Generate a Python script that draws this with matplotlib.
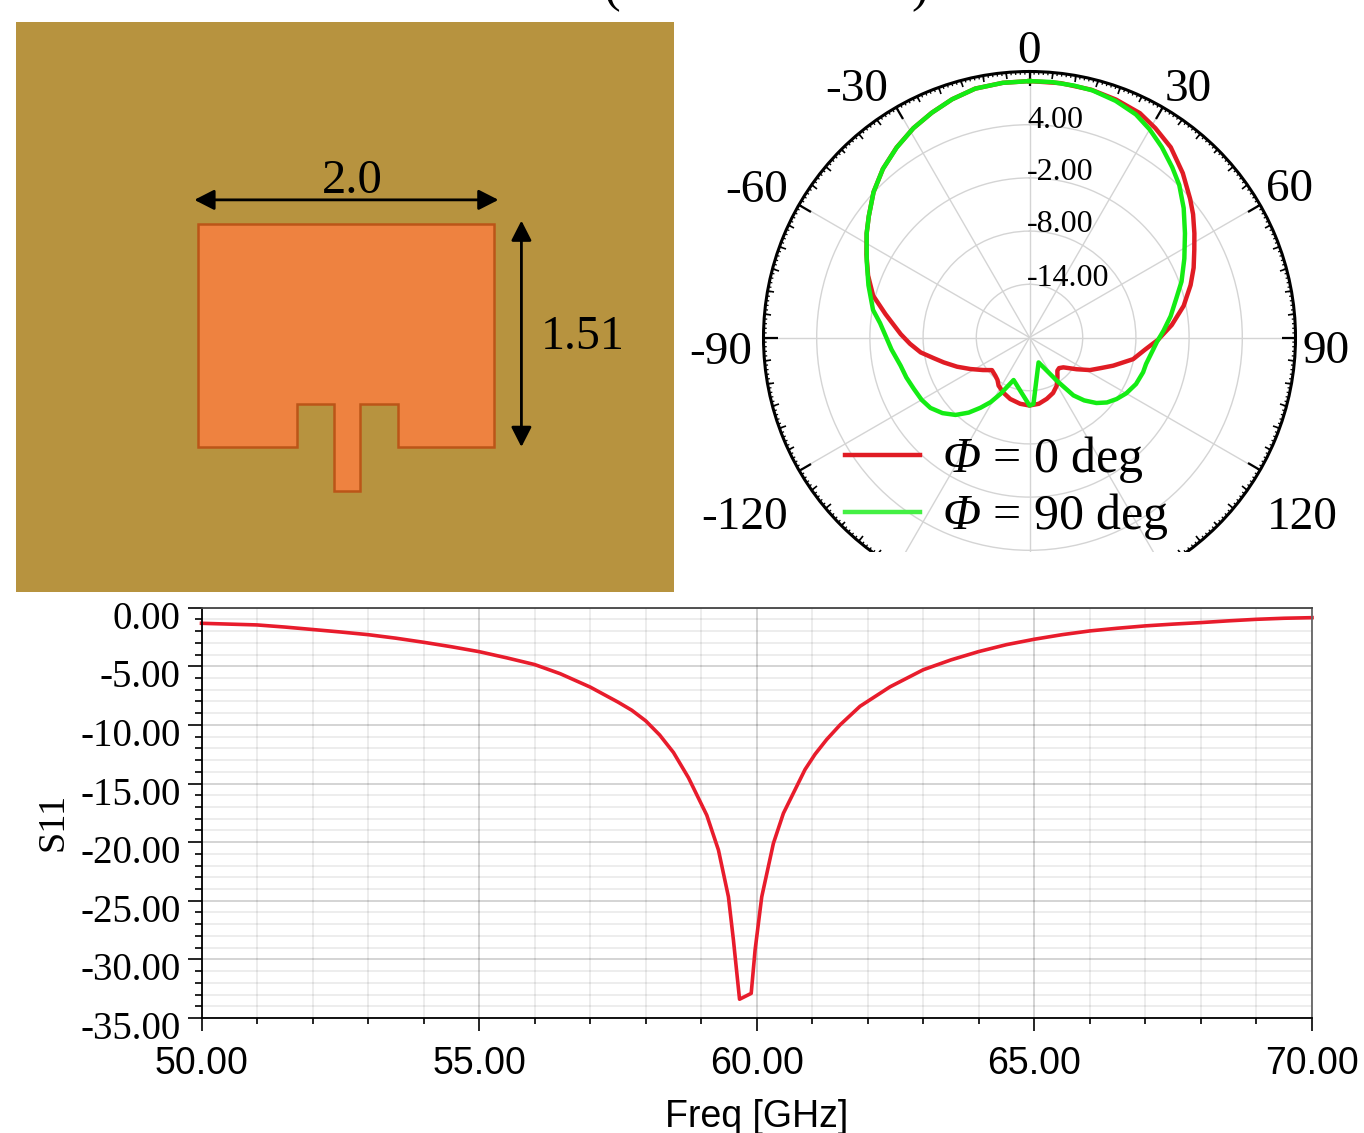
import numpy as np
import matplotlib
matplotlib.use("Agg")
import matplotlib.pyplot as plt
from matplotlib.patches import Polygon, Rectangle
from matplotlib.transforms import ScaledTranslation

plt.rcParams['font.family'] = ['Liberation Serif', 'DejaVu Sans']
# Capital greek in mathtext comes from the rm slot, the legend wants it slanted
plt.rcParams['mathtext.fontset'] = 'custom'
plt.rcParams['mathtext.it'] = 'Liberation Serif:italic'
plt.rcParams['mathtext.rm'] = 'Liberation Serif:italic'

W, H = 1364, 1133

# Patch outline in mm, origin at lower left corner of the patch
patch_x = [0, 2.0, 2.0, 1.35, 1.35, 1.095, 1.095, 0.92, 0.92, 0.67, 0.67, 0]
patch_y = [1.51, 1.51, 0, 0, 0.29, 0.29, -0.30, -0.30, 0.29, 0.29, 0, 0]

# Radiation pattern, angle in deg, gain in dB
theta_red = [0, 7, 14, 20, 26.2, 31, 36.6, 43, 49.2, 53, 57.7, 62, 67, 72, 78.4,
             85, 91, 96, 101.8, 105, 108.6, 113, 118.3, 124, 131.4, 136, 140,
             145, 150.5, 157, 164.3, 172, 180, 188, 197.4, 205, 212.7, 217,
             221.8, 229, 235, 241.9, 248, 253.8, 258, 262.2, 267, 271.5, 279.2,
             285, 291, 297, 302.6, 307, 313, 319, 325, 331, 336.5, 342, 347.7,
             354, 360]
gain_red = [8.92, 8.9, 8.8, 8.55, 8.20, 7.55, 6.72, 5.35, 3.93, 3.1, 2.0, 1.05,
            0.11, -0.9, -2.25, -3.9, -5.5, -6.9, -8.06, -9.1, -10.04, -11.2,
            -12.25, -13.6, -14.91, -15.2, -15.11, -14.5, -13.76, -13.2, -12.81,
            -12.45, -12.33, -12.45, -12.73, -13.1, -13.55, -14.0, -14.22, -14.39,
            -13.6, -12.45, -11.2, -9.93, -8.9, -7.61, -6.5, -5.47, -3.55, -1.74,
            -0.5, 0.64, 1.80, 2.7, 4.05, 5.2, 6.15, 7.0, 7.64, 8.25, 8.73, 8.88,
            8.92]
theta_green = [0, 5, 10, 14.3, 20, 25.5, 30, 34.8, 40, 44.5, 50, 56.2, 63, 69.8,
               75, 81.4, 87, 92, 102.8, 107, 113.6, 120, 125.3, 130, 134.4, 139,
               142.8, 147.8, 160, 176.6, 180, 200.5, 207.3, 211, 214.9, 219,
               223.7, 229, 234.6, 240, 246, 252, 257.7, 265, 275.5, 280, 288,
               295.2, 302.6, 307, 313, 319, 325.1, 331, 336.5, 342, 347.7, 354,
               360]
gain_green = [8.92, 8.92, 8.85, 8.76, 8.40, 7.87, 7.1, 6.15, 5.05, 4.10, 2.7,
              1.10, -0.4, -1.73, -2.85, -3.90, -4.85, -5.62, -6.52, -6.6, -6.89,
              -7.4, -7.98, -8.6, -9.44, -10.6, -11.80, -14.27, -17.01, -12.49,
              -12.33, -14.88, -12.83, -11.5, -10.34, -9.1, -7.92, -7.0, -6.29,
              -5.95, -5.73, -5.4, -5.12, -4.38, -3.07, -2.08, -0.9, 0.29, 1.80,
              2.7, 4.05, 5.2, 6.15, 7.0, 7.64, 8.25, 8.73, 8.88, 8.92]
ring_values = [-14, -8, -2, 4]
ring_labels = ["-14.00", "-8.00", "-2.00", "4.00"]
angle_labels = ["0", "30", "60", "90", "120", "-30", "-60", "-90", "-120"]

# S11 against frequency
freq = [50, 50.5, 51, 51.5, 52, 52.5, 53, 53.5, 54, 54.5, 55, 55.5, 56, 56.46,
        57, 57.5, 57.75, 58, 58.25, 58.5, 58.77, 59.10, 59.31, 59.49, 59.58,
        59.69, 59.90, 59.97, 60.09, 60.30, 60.48, 60.87, 61.05, 61.26, 61.5,
        61.86, 62.4, 63, 63.5, 64, 64.5, 65, 65.5, 66, 66.5, 67, 67.5, 68, 68.5,
        69, 69.5, 70]
s11 = [-1.33, -1.40, -1.47, -1.65, -1.86, -2.07, -2.3, -2.6, -2.95, -3.33, -3.75,
       -4.28, -4.85, -5.63, -6.77, -8.05, -8.75, -9.65, -10.85, -12.35, -14.5,
       -17.7, -20.67, -24.66, -28.35, -33.4, -32.9, -29.2, -24.66, -20.1,
       -17.54, -13.8, -12.5, -11.24, -10.0, -8.41, -6.75, -5.29, -4.45, -3.74,
       -3.15, -2.69, -2.3, -1.98, -1.75, -1.55, -1.4, -1.27, -1.12, -0.99, -0.9,
       -0.85]


def px_rect(x0, y0, x1, y1):
    # pixel box (y down) to figure fractions
    return [x0 / W, 1 - y1 / H, (x1 - x0) / W, (y1 - y0) / H]


def px_text(x, y, s, **kw):
    kw.setdefault("ha", "center")
    kw.setdefault("va", "center")
    return fig.text(x / W, 1 - y / H, s, **kw)


fig = plt.figure(figsize=(W / 100, H / 100), dpi=100)

# Antenna layout
ax0 = fig.add_axes(px_rect(16, 22, 674, 592))
ax0.set_xlim(-1.23, 3.216)
ax0.set_ylim(-0.98, 2.872)
ax0.set_facecolor("#B7933F")
ax0.set_xticks([])
ax0.set_yticks([])
for s in ax0.spines.values():
    s.set_visible(False)
ax0.add_patch(Polygon(np.c_[patch_x, patch_y], closed=True, fc="#EE8240",
                      ec="#BB5518", lw=1.8))
arrow = dict(arrowstyle="<|-|>,head_length=0.55,head_width=0.28", color="k", lw=2,
             mutation_scale=22, shrinkA=0, shrinkB=0)
ax0.annotate("", xy=(-0.025, 1.67), xytext=(2.03, 1.67), arrowprops=arrow)
ax0.annotate("", xy=(2.185, 1.53), xytext=(2.185, -0.0), arrowprops=arrow)
ax0.text(1.04, 1.80, "2.0", fontsize=35, ha="center", va="center")
ax0.text(2.6, 0.74, "1.51", fontsize=34.5, ha="center", va="center")

# Radiation pattern
cx, cy, R = 1029.5, 337.5, 266
ax1 = fig.add_axes(px_rect(cx - R, cy - R, cx + R, cy + R), projection="polar")
ax1.set_zorder(1)
ax1.set_theta_zero_location("N")
ax1.set_theta_direction(-1)
ax1.set_ylim(-20, 10)
ax1.set_yticks(ring_values + [10])
ax1.set_yticklabels([])
ax1.set_xticks(np.deg2rad(np.arange(0, 360, 30)))
ax1.set_xticks(np.deg2rad(np.arange(0, 360, 5)), minor=True)
ax1.set_xticklabels([])
ax1.grid(True, which="major", color="#D4D4D4", lw=1.0)
# polar axes switch their ticks off, tick2 is the one on the outer circle
ax1.tick_params(axis="x", which="major", direction="in", length=10, width=1.6,
                color="k", top=True, bottom=False)
ax1.tick_params(axis="x", which="minor", direction="in", length=4.5, width=1.2,
                color="k", top=True, bottom=False)
# 1 deg bumps along the rim, the axes only has two tick levels
ax1.vlines(np.deg2rad(np.arange(0, 360, 1)), 9.65, 10, color="k", lw=0.9)
ax1.spines["polar"].set_linewidth(2.2)
l_red, = ax1.plot(np.deg2rad(theta_red), gain_red, color="#E01C24", lw=3.2,
                  label=r"$\Phi$ = 0 deg")
l_green, = ax1.plot(np.deg2rad(theta_green), gain_green, color="#14EC14", lw=3.2,
                    label=r"$\Phi$ = 90 deg")
leg = ax1.legend(handles=[l_red, l_green], loc="upper left", frameon=False,
                 bbox_to_anchor=(845 / W, 1 - 434 / H),
                 bbox_transform=fig.transFigure, fontsize=36, borderpad=0,
                 borderaxespad=0, handlelength=1.5, handletextpad=0.44,
                 labelspacing=0.13)
leg.get_lines()[1].set_color("#44F044")

# the pattern is cropped at the bottom of the panel
fig.add_artist(Rectangle((676 / W, 1 - 606 / H), (W - 676) / W, 54 / H,
                         transform=fig.transFigure, fc="white", ec="none",
                         zorder=2))

angle_xy = [(1029, 52), (1188, 90), (1289, 190), (1326, 352), (1302, 518),
            (857, 90), (757, 191), (721, 353), (745, 518)]
for (x, y), s in zip(angle_xy, angle_labels):
    px_text(x, y, s, fontsize=34, zorder=4)
ring_y = [279, 224, 172, 120]
for y, s in zip(ring_y, ring_labels):
    px_text(1027, y, s, fontsize=23, ha="left", zorder=4)

# S11 sweep
ax2 = fig.add_axes(px_rect(201.5, 607.7, 1312, 1018))
ax2.set_zorder(3)
ax2.plot(freq, s11, color="#E81C2C", lw=2.6, clip_on=False)
ax2.set_xlim(50, 70)
ax2.set_ylim(-35, 0)
ax2.set_xticks(np.arange(50, 71, 5))
ax2.set_xticklabels(["%.2f" % v for v in np.arange(50, 71, 5)],
                    family="Liberation Sans", fontsize=27)
ax2.set_xticks(np.arange(50, 71, 1), minor=True)
ax2.set_yticks(np.arange(-35, 1, 5))
ax2.set_yticklabels(["%.2f" % v for v in np.arange(-35, 1, 5)], fontsize=28)
ax2.set_yticks(np.arange(-35, 1, 1), minor=True)
ax2.set_axisbelow(True)
ax2.grid(True, which="major", color="k", alpha=0.17, lw=1.4)
ax2.grid(True, which="minor", color="k", alpha=0.07, lw=1.4)
ax2.tick_params(axis="y", which="major", length=10, width=1.2, pad=5)
ax2.tick_params(axis="y", which="minor", length=5, width=1.2)
ax2.tick_params(axis="x", which="major", length=9.5, width=1.2, pad=10.5)
ax2.tick_params(axis="x", which="minor", length=4, width=1.2)
ax2.spines["top"].set_color("#444444")
ax2.spines["right"].set_color("#666666")
for s in ax2.spines.values():
    s.set_linewidth(1.3)
shift = ScaledTranslation(0, -7 / 100, fig.dpi_scale_trans)
for lab in ax2.get_yticklabels():
    lab.set_transform(lab.get_transform() + shift)
ax2.set_xlabel("Freq [GHz]", family="Liberation Sans", fontsize=27)
ax2.xaxis.set_label_coords(0.5, -0.197)
ax2.set_ylabel("S11", fontsize=27.5)
ax2.yaxis.set_label_coords(-0.118, 0.478)

# cut off caption brackets at the top edge
px_text(612, 1, "(", fontsize=36, va="baseline")
px_text(920, 1, ")", fontsize=36, va="baseline")

fig.savefig("out.png", dpi=100)
